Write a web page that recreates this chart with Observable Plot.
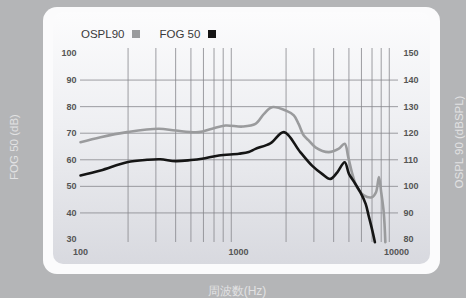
<!DOCTYPE html>
<html>
<head>
<meta charset="utf-8">
<script src="https://cdn.jsdelivr.net/npm/d3@7"></script>
<script src="https://cdn.jsdelivr.net/npm/@observablehq/plot@0.6"></script>
<style>
  html, body { margin: 0; padding: 0; }
  body { width: 466px; height: 298px; background: #b4b5b7; position: relative; overflow: hidden;
         font-family: "Liberation Sans", Arial, sans-serif; }
  #panel { position: absolute; left: 43px; top: 7px; width: 397px; height: 267px; background: #fbfbfc; border-radius: 14px; }
  #inner { position: absolute; left: 53px; top: 12px; width: 377px; height: 252px; border-radius: 10px;
           background: linear-gradient(to bottom, #fcfcfd 0%, #eeeff2 45%, #d8d9df 100%); }
  #chart { position: absolute; left: 0; top: 0; }
  .lbl { position: absolute; color: #e2e2e3; font-size: 11.5px; white-space: nowrap; }
  #legend { position: absolute; left: 81px; top: 28px; font-size: 11.5px; color: #3a3a3a; white-space: nowrap; }
  #legend span.sw { display: inline-block; width: 8px; height: 8px; margin-left: 8px; vertical-align: 0px; }
</style>
</head>
<body>
<div id="panel"></div>
<div id="inner"></div>
<div id="chart"></div>
<div id="legend"></div>
<div class="lbl" id="ylabL"></div>
<div class="lbl" id="ylabR"></div>
<div class="lbl" id="xlab"></div>
<script>
// ---- data ----
const fogFreq = [100, 134, 197, 264, 320, 400, 500, 588, 751, 1006, 1160, 1280, 1590, 1940, 2460, 2920, 3380, 3810, 4220, 4700, 5000, 5400, 5900, 6380, 6660, 6990, 7300];
const fogDb   = [54.1, 56.0, 59.1, 60.0, 60.2, 59.5, 59.9, 60.4, 61.6, 62.3, 62.9, 64.1, 66.2, 70.4, 62.9, 57.8, 54.7, 52.8, 55.3, 59.1, 54.7, 51.6, 47.8, 43.4, 39.0, 34.0, 29.0];

const osplFreq = [100, 134, 197, 313, 400, 560, 681, 826, 1060, 1280, 1450, 1630, 2000, 2240, 2400, 2590, 2780, 3070, 3720, 4290, 4700, 4950, 5220, 5620, 6220, 6990, 7420, 7740, 8000, 8300, 8500];
const osplDb   = [116.6, 118.5, 120.4, 121.7, 121.0, 120.4, 121.7, 122.9, 122.5, 123.5, 127.3, 129.8, 128.5, 126.7, 123.5, 119.1, 117.3, 114.7, 112.9, 114.1, 116.0, 111.0, 105.3, 99.7, 96.6, 95.9, 97.8, 103.5, 97.8, 90.3, 79.0];

const leftTicks = [30, 40, 50, 60, 70, 80, 90, 100];
const rightTicks = [80, 90, 100, 110, 120, 130, 140, 150];
const xTicks = [100, 1000, 10000];
const gridY = [40, 50, 60, 70, 80, 90];
const gridX = [200, 300, 400, 500, 600, 700, 800, 900, 2000, 3000, 4000, 5000, 6000, 7000, 8000, 9000];

const seriesNames = ["OSPL90", "FOG 50"];
const axisTitles = { left: "FOG 50 (dB)", right: "OSPL 90 (dBSPL)", bottom: "周波数(Hz)" };

const OFFSET = 50; // right axis = left axis + 50

const fog = fogFreq.map((f, i) => ({ f, v: fogDb[i] }));
const ospl = osplFreq.map((f, i) => ({ f, v: osplDb[i] - OFFSET }));

const chart = Plot.plot({
  width: 466,
  height: 298,
  marginLeft: 80,
  marginRight: 70,
  marginTop: 53,
  marginBottom: 59,
  style: { background: "transparent", fontFamily: "Liberation Sans, Arial, sans-serif" },
  x: { type: "log", domain: [100, 10000] },
  y: { domain: [30, 100] },
  marks: [
    Plot.ruleY(gridY, { stroke: "#86878b", strokeWidth: 0.8, insetRight: -2 }),
    Plot.ruleX(gridX, { stroke: "#86878b", strokeWidth: 0.8, insetTop: -5, insetBottom: -3 }),
    Plot.axisY({ anchor: "left", ticks: leftTicks, tickSize: 0, tickPadding: 4, fontSize: 9, fontWeight: "bold", fill: "#555", label: null }),
    Plot.axisY({ anchor: "right", ticks: rightTicks.map(t => t - OFFSET), tickFormat: d => d + OFFSET, tickSize: 0, tickPadding: 7, fontSize: 9, fontWeight: "bold", fill: "#555", label: null }),
    Plot.axisX({ ticks: xTicks, tickFormat: d => String(d), tickSize: 0, tickPadding: 9, fontSize: 9, fontWeight: "bold", fill: "#555", label: null }),
    Plot.line(ospl, { x: "f", y: "v", stroke: "#9a9b9d", strokeWidth: 2.6, curve: "catmull-rom" }),
    Plot.line(fog, { x: "f", y: "v", stroke: "#151515", strokeWidth: 2.6, curve: "catmull-rom" })
  ]
});
document.getElementById("chart").appendChild(chart);

// legend
const lg = document.getElementById("legend");
lg.innerHTML = `<span>${seriesNames[0]}</span><span class="sw" style="background:#9a9b9d"></span>` +
  `<span style="margin-left:19px">${seriesNames[1]}</span><span class="sw" style="background:#151515"></span>`;

// axis titles
const L = document.getElementById("ylabL");
L.textContent = axisTitles.left;
L.style.left = "14px"; L.style.top = "147px";
L.style.transform = "translate(-50%,-50%) rotate(-90deg)";
const R = document.getElementById("ylabR");
R.textContent = axisTitles.right;
R.style.left = "459px"; R.style.top = "142px";
R.style.transform = "translate(-50%,-50%) rotate(-90deg)";
const B = document.getElementById("xlab");
B.textContent = axisTitles.bottom;
B.style.left = "237px"; B.style.top = "291px"; B.style.fontSize = "12px";
B.style.transform = "translate(-50%,-50%)";
</script>
</body>
</html>
